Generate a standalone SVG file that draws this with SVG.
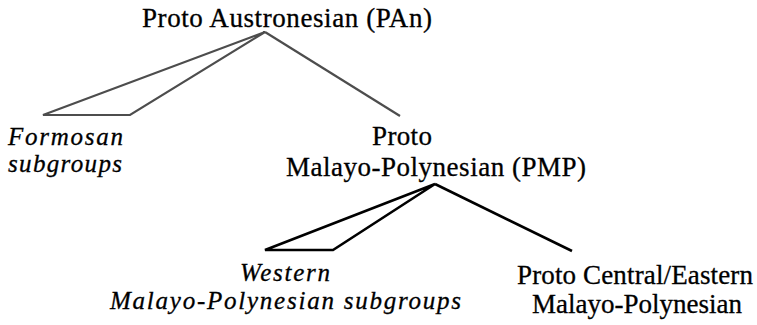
<svg xmlns="http://www.w3.org/2000/svg" width="757" height="325" viewBox="0 0 757 325">
<style>
text{font-family:'Liberation Serif','DejaVu Serif','Times New Roman',serif;font-size:27px;fill:#000;stroke:#000;stroke-width:0.3;}
.it{font-style:italic;font-size:25px;}
.top{fill:none;stroke:#4d4d4d;stroke-width:2.2;stroke-linejoin:miter;}
.low{fill:none;stroke:#000;stroke-width:2.6;stroke-linejoin:miter;}
</style>
<rect width="757" height="325" fill="#fff"/>
<g id="connectors">
<polygon class="top" points="265,32 43,115 130,115"/>
<line class="top" x1="265" y1="32" x2="400" y2="116"/>
<polygon class="low" points="435,184 265,250 333,250"/>
<line class="low" x1="435" y1="184" x2="572" y2="251"/>
</g>
<g id="pan">
<text x="142" y="27" textLength="290" lengthAdjust="spacing">Proto Austronesian (PAn)</text>
</g>
<g id="formosan">
<text class="it" x="8" y="145" textLength="115" lengthAdjust="spacing">Formosan</text>
<text class="it" x="8" y="172" textLength="114" lengthAdjust="spacing">subgroups</text>
</g>
<g id="pmp">
<text x="372" y="145" textLength="60" lengthAdjust="spacing">Proto</text>
<text x="286" y="176" textLength="300" lengthAdjust="spacing">Malayo-Polynesian (PMP)</text>
</g>
<g id="wmp">
<text class="it" x="240" y="281" textLength="90" lengthAdjust="spacing">Western</text>
<text class="it" x="110" y="309" textLength="351" lengthAdjust="spacing">Malayo-Polynesian subgroups</text>
</g>
<g id="pcemp">
<text x="517" y="284" textLength="236" lengthAdjust="spacing">Proto Central/Eastern</text>
<text x="532" y="313" textLength="210" lengthAdjust="spacing">Malayo-Polynesian</text>
</g>
</svg>
